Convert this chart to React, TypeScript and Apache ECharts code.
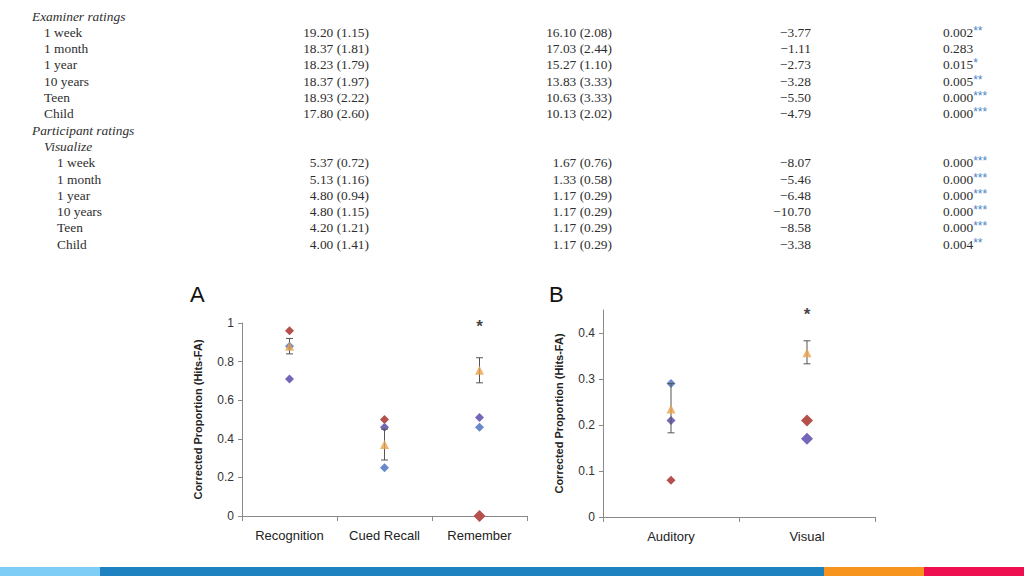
import React, { useEffect, useRef } from "react";
import * as echarts from "echarts";

// ---------- Table data ----------
const examinerLabels = ["1 week", "1 month", "1 year", "10 years", "Teen", "Child"];
const examinerMean1 = [19.2, 18.37, 18.23, 18.37, 18.93, 17.8];
const examinerSd1 = [1.15, 1.81, 1.79, 1.97, 2.22, 2.6];
const examinerMean2 = [16.1, 17.03, 15.27, 13.83, 10.63, 10.13];
const examinerSd2 = [2.08, 2.44, 1.1, 3.33, 3.33, 2.02];
const examinerT = [-3.77, -1.11, -2.73, -3.28, -5.5, -4.79];
const examinerP = [0.002, 0.283, 0.015, 0.005, 0.0, 0.0];
const examinerSig = ["**", "", "*", "**", "***", "***"];

const participantLabels = ["1 week", "1 month", "1 year", "10 years", "Teen", "Child"];
const participantMean1 = [5.37, 5.13, 4.8, 4.8, 4.2, 4.0];
const participantSd1 = [0.72, 1.16, 0.94, 1.15, 1.21, 1.41];
const participantMean2 = [1.67, 1.33, 1.17, 1.17, 1.17, 1.17];
const participantSd2 = [0.76, 0.58, 0.29, 0.29, 0.29, 0.29];
const participantT = [-8.07, -5.46, -6.48, -10.7, -8.58, -3.38];
const participantP = [0.0, 0.0, 0.0, 0.0, 0.0, 0.004];
const participantSig = ["***", "***", "***", "***", "***", "**"];

// ---------- Chart A data ----------
const catsA = ["Recognition", "Cued Recall", "Remember"];
const blueA = [0.88, 0.25, 0.46];
const redA = [0.96, 0.5, 0.0];
const purpleA = [0.71, 0.46, 0.51];
const meanA = [0.88, 0.37, 0.755];
const errLowA = [0.84, 0.29, 0.69];
const errHighA = [0.92, 0.45, 0.82];
const starA = [null, null, 0.98];

// ---------- Chart B data ----------
const catsB = ["Auditory", "Visual"];
const blueB = [0.29, null];
const redB = [0.08, 0.21];
const purpleB = [0.21, 0.17];
const meanB = [0.235, 0.357];
const errLowB = [0.183, 0.333];
const errHighB = [0.29, 0.383];
const starB = [null, 0.44];

const Y_NAME = "Corrected Proportion (Hits-FA)";

// ---------- styles ----------
const BLUE = "#6a88cc";
const RED = "#b5504c";
const PURPLE = "#7566b8";
const ORANGE = "#e9a24c";
const TXT = "#2e2e2e";
const SERIF = "'Liberation Serif', 'Times New Roman', serif";
const SANS = "'Liberation Sans', Arial, sans-serif";

const fmtT = (v: number) => "\u2212" + Math.abs(v).toFixed(2);

function tableGraphics(): any[] {
  const els: any[] = [];
  const y0 = 16;
  const step = 16.3;
  const fs = 13.4;
  const txt = (x: number, y: number, s: string, align: string, italic = false) => ({
    type: "text",
    x,
    y,
    style: {
      text: s,
      fill: TXT,
      font: `${italic ? "italic " : ""}${fs}px ${SERIF}`,
      textAlign: align,
      textVerticalAlign: "middle",
    },
  });
  const pText = (x: number, y: number, p: number, sig: string) => ({
    type: "text",
    x,
    y,
    style: {
      text: sig ? `{a|${p.toFixed(3)}}{s|${sig}}` : `{a|${p.toFixed(3)}}`,
      textAlign: "left",
      textVerticalAlign: "middle",
      rich: {
        a: { fill: TXT, fontSize: fs, fontFamily: SERIF, lineHeight: 15 },
        s: { fill: "#4a86c8", fontSize: 12, fontFamily: SANS, verticalAlign: "top", lineHeight: 15 },
      },
    },
  });
  let line = 0;
  els.push(txt(32, y0 + line * step, "Examiner ratings", "left", true));
  line++;
  examinerLabels.forEach((lab, i) => {
    const y = y0 + line * step;
    els.push(txt(44, y, lab, "left"));
    els.push(txt(369, y, `${examinerMean1[i].toFixed(2)} (${examinerSd1[i].toFixed(2)})`, "right"));
    els.push(txt(612, y, `${examinerMean2[i].toFixed(2)} (${examinerSd2[i].toFixed(2)})`, "right"));
    els.push(txt(811, y, fmtT(examinerT[i]), "right"));
    els.push(pText(943, y, examinerP[i], examinerSig[i]));
    line++;
  });
  els.push(txt(32, y0 + line * step, "Participant ratings", "left", true));
  line++;
  els.push(txt(44, y0 + line * step, "Visualize", "left", true));
  line++;
  participantLabels.forEach((lab, i) => {
    const y = y0 + line * step;
    els.push(txt(57, y, lab, "left"));
    els.push(txt(369, y, `${participantMean1[i].toFixed(2)} (${participantSd1[i].toFixed(2)})`, "right"));
    els.push(txt(612, y, `${participantMean2[i].toFixed(2)} (${participantSd2[i].toFixed(2)})`, "right"));
    els.push(txt(811, y, fmtT(participantT[i]), "right"));
    els.push(pText(943, y, participantP[i], participantSig[i]));
    line++;
  });
  return els;
}

function stripeGraphics(): any[] {
  const segs = [
    { x: 0, w: 100, c: "#7ecdf6" },
    { x: 100, w: 724, c: "#1f82c0" },
    { x: 824, w: 100, c: "#f7941d" },
    { x: 924, w: 100, c: "#ee0f50" },
  ];
  return segs.map((s) => ({
    type: "rect",
    shape: { x: s.x, y: 567, width: s.w, height: 9 },
    style: { fill: s.c },
  }));
}

const axisGray = "#8a8a8a";

function xAxisCfg(cats: string[], gridIndex: number) {
  return {
    type: "category",
    gridIndex,
    data: cats,
    boundaryGap: true,
    axisLine: { lineStyle: { color: axisGray, width: 1 } },
    axisTick: { show: true, length: 5, interval: 0, lineStyle: { color: axisGray } },
    axisLabel: { color: "#222", fontSize: 13, fontFamily: SANS, margin: 13 },
    splitLine: { show: false },
  };
}

function yAxisCfg(gridIndex: number, max: number, interval: number, showMax: boolean) {
  return {
    type: "value",
    gridIndex,
    min: 0,
    max,
    interval,
    name: Y_NAME,
    nameLocation: "middle",
    nameGap: 39,
    nameTextStyle: { color: "#222", fontSize: 11, fontWeight: "bold", fontFamily: SANS },
    axisLine: { show: true, lineStyle: { color: axisGray, width: 1 } },
    axisTick: { show: true, length: 4, lineStyle: { color: axisGray } },
    axisLabel: { color: "#333", fontSize: 12, fontFamily: SANS, margin: 8, showMaxLabel: showMax },
    splitLine: { show: false },
  };
}

function errorSeries(idx: number, low: number[], high: number[]) {
  return {
    type: "custom",
    xAxisIndex: idx,
    yAxisIndex: idx,
    z: 3,
    data: low.map((l, i) => [i, l, high[i]]),
    renderItem: (params: any, api: any) => {
      const x = api.value(0);
      const pL = api.coord([x, api.value(1)]);
      const pH = api.coord([x, api.value(2)]);
      const cap = 3.5;
      const st = { stroke: "#555", lineWidth: 1 };
      return {
        type: "group",
        children: [
          { type: "line", shape: { x1: pL[0], y1: pL[1], x2: pH[0], y2: pH[1] }, style: st },
          { type: "line", shape: { x1: pL[0] - cap, y1: pL[1], x2: pL[0] + cap, y2: pL[1] }, style: st },
          { type: "line", shape: { x1: pH[0] - cap, y1: pH[1], x2: pH[0] + cap, y2: pH[1] }, style: st },
        ],
      };
    },
  };
}

// larger markers (overlapping points) keyed by "chart-series-index"
const bigMarkers = new Set(["A-red-2", "B-red-1", "B-purple-1"]);

function diamondSeries(idx: number, chart: string, key: string, vals: (number | null)[], color: string, z: number) {
  return {
    type: "scatter",
    xAxisIndex: idx,
    yAxisIndex: idx,
    z,
    symbol: "diamond",
    symbolSize: (_v: any, p: any) => (bigMarkers.has(`${chart}-${key}-${p.dataIndex}`) ? 12 : 9),
    itemStyle: { color, opacity: 1 },
    data: vals.map((v, i) => [i, v]),
  };
}

function meanSeries(idx: number, vals: number[]) {
  return {
    type: "scatter",
    xAxisIndex: idx,
    yAxisIndex: idx,
    z: 5,
    symbol: "triangle",
    symbolSize: 9,
    itemStyle: { color: ORANGE },
    data: vals.map((v, i) => [i, v]),
  };
}

function starSeries(idx: number, vals: (number | null)[]) {
  return {
    type: "scatter",
    xAxisIndex: idx,
    yAxisIndex: idx,
    z: 6,
    symbolSize: 1,
    itemStyle: { color: "rgba(0,0,0,0)" },
    label: {
      show: true,
      position: "inside",
      formatter: "*",
      color: "#111",
      fontSize: 17,
      fontWeight: "bold",
      fontFamily: SANS,
    },
    data: vals.map((v, i) => [i, v]),
  };
}

export default function App() {
  const ref = useRef<HTMLDivElement>(null);
  useEffect(() => {
    if (!ref.current) return;
    const chart = echarts.init(ref.current, undefined, { renderer: "svg" });
    chart.setOption({
      animation: false,
      backgroundColor: "#ffffff",
      grid: [
        { left: 242, top: 323, width: 285, height: 193 },
        { left: 603, top: 310, width: 272, height: 207 },
      ],
      xAxis: [xAxisCfg(catsA, 0), xAxisCfg(catsB, 1)],
      yAxis: [yAxisCfg(0, 1, 0.2, true), yAxisCfg(1, 0.45, 0.1, false)],
      series: [
        diamondSeries(0, "A", "red", redA, RED, 2),
        diamondSeries(0, "A", "blue", blueA, BLUE, 2),
        diamondSeries(0, "A", "purple", purpleA, PURPLE, 2),
        errorSeries(0, errLowA, errHighA),
        meanSeries(0, meanA),
        starSeries(0, starA),
        diamondSeries(1, "B", "red", redB, RED, 2),
        diamondSeries(1, "B", "blue", blueB, BLUE, 2),
        diamondSeries(1, "B", "purple", purpleB, PURPLE, 2),
        errorSeries(1, errLowB, errHighB),
        meanSeries(1, meanB),
        starSeries(1, starB),
      ],
      graphic: [
        ...tableGraphics(),
        {
          type: "text",
          x: 190,
          y: 294,
          style: { text: "A", fill: "#111", font: `22px ${SANS}`, textVerticalAlign: "middle" },
        },
        {
          type: "text",
          x: 549,
          y: 294,
          style: { text: "B", fill: "#111", font: `22px ${SANS}`, textVerticalAlign: "middle" },
        },
        ...stripeGraphics(),
      ],
    });
    return () => chart.dispose();
  }, []);
  return (
    <div
      ref={ref}
      style={{ position: "fixed", left: 0, top: 0, width: 1024, height: 576, background: "#fff" }}
    />
  );
}
